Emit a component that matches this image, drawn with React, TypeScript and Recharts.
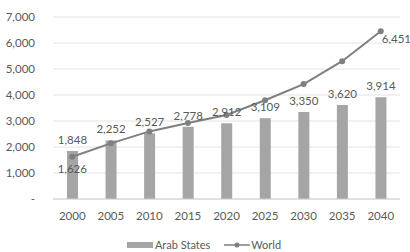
import { Bar, CartesianGrid, ComposedChart, LabelList, Legend, Line, XAxis, YAxis } from "recharts";

const years = ["2000", "2005", "2010", "2015", "2020", "2025", "2030", "2035", "2040"];
const arabStates = [1848, 2252, 2527, 2778, 2912, 3109, 3350, 3620, 3914];
const world = [1626, 2140, 2600, 2920, 3230, 3800, 4420, 5300, 6451];
const yTicks = [0, 1000, 2000, 3000, 4000, 5000, 6000, 7000];

const data = years.map((name, i) => ({ name, arab: arabStates[i], world: world[i] }));

const FONT = "Lato, 'Open Sans', sans-serif";
const TEXT = "#595959";
const BAR = "#a5a5a5";
const LINE = "#7f7f7f";

function fmt(v: number) {
  return v === 0 ? "-" : v.toLocaleString("en-US");
}

function WorldLabel(props: any) {
  const { x, y, value, index } = props;
  if (index === 0) {
    return (
      <text x={x} y={y + 16} textAnchor="middle" fill={TEXT} fontSize={11.5} fontFamily={FONT}>
        {fmt(value)}
      </text>
    );
  }
  if (index === years.length - 1) {
    return (
      <text x={x + 1} y={y + 12} textAnchor="start" fill={TEXT} fontSize={11.5} fontFamily={FONT}>
        {fmt(value)}
      </text>
    );
  }
  return null;
}

function LegendContent() {
  return (
    <div style={{ height: 12, lineHeight: "12px", display: "flex", justifyContent: "center", alignItems: "center", fontFamily: FONT, fontSize: 11, color: TEXT }}>
      <svg width={26} height={8} style={{ marginRight: 2 }}>
        <rect x={0} y={1} width={26} height={6} fill={BAR} />
      </svg>
      <span style={{ marginRight: 14 }}>Arab States</span>
      <svg width={26} height={8} style={{ marginRight: 1 }}>
        <line x1={0} y1={4} x2={26} y2={4} stroke={LINE} strokeWidth={1.5} />
        <circle cx={13} cy={4} r={2.5} fill={LINE} />
      </svg>
      <span>World</span>
    </div>
  );
}

export default function App() {
  return (
    <div style={{ position: "fixed", left: 0, top: 0, background: "#fff" }}>
      <ComposedChart width={410} height={252} data={data} margin={{ top: 17, right: 10, left: 8, bottom: 1 }}>
        <CartesianGrid vertical={false} stroke="#e3e3e3" />
        <XAxis
          dataKey="name"
          height={40}
          tickLine={false}
          axisLine={{ stroke: "#cfcfcf" }}
          tickMargin={7}
          tick={{ fill: TEXT, fontSize: 11.5, fontFamily: FONT }}
        />
        <YAxis
          width={45}
          domain={[0, 7000]}
          ticks={yTicks}
          tickFormatter={fmt}
          axisLine={false}
          tickLine={false}
          tickMargin={12}
          tick={{ fill: TEXT, fontSize: 11.5, fontFamily: FONT }}
        />
        <Bar dataKey="arab" name="Arab States" fill={BAR} barSize={11} isAnimationActive={false}>
          <LabelList dataKey="arab" position="top" offset={7} formatter={(v: any) => fmt(Number(v))} fill={TEXT} fontSize={11.5} fontFamily={FONT} />
        </Bar>
        <Line
          dataKey="world"
          name="World"
          type="linear"
          stroke={LINE}
          strokeWidth={2}
          dot={{ r: 3, fill: LINE, stroke: LINE, strokeWidth: 0 }}
          isAnimationActive={false}
        >
          <LabelList dataKey="world" content={WorldLabel} />
        </Line>
        <Legend verticalAlign="bottom" content={LegendContent} />
      </ComposedChart>
    </div>
  );
}
